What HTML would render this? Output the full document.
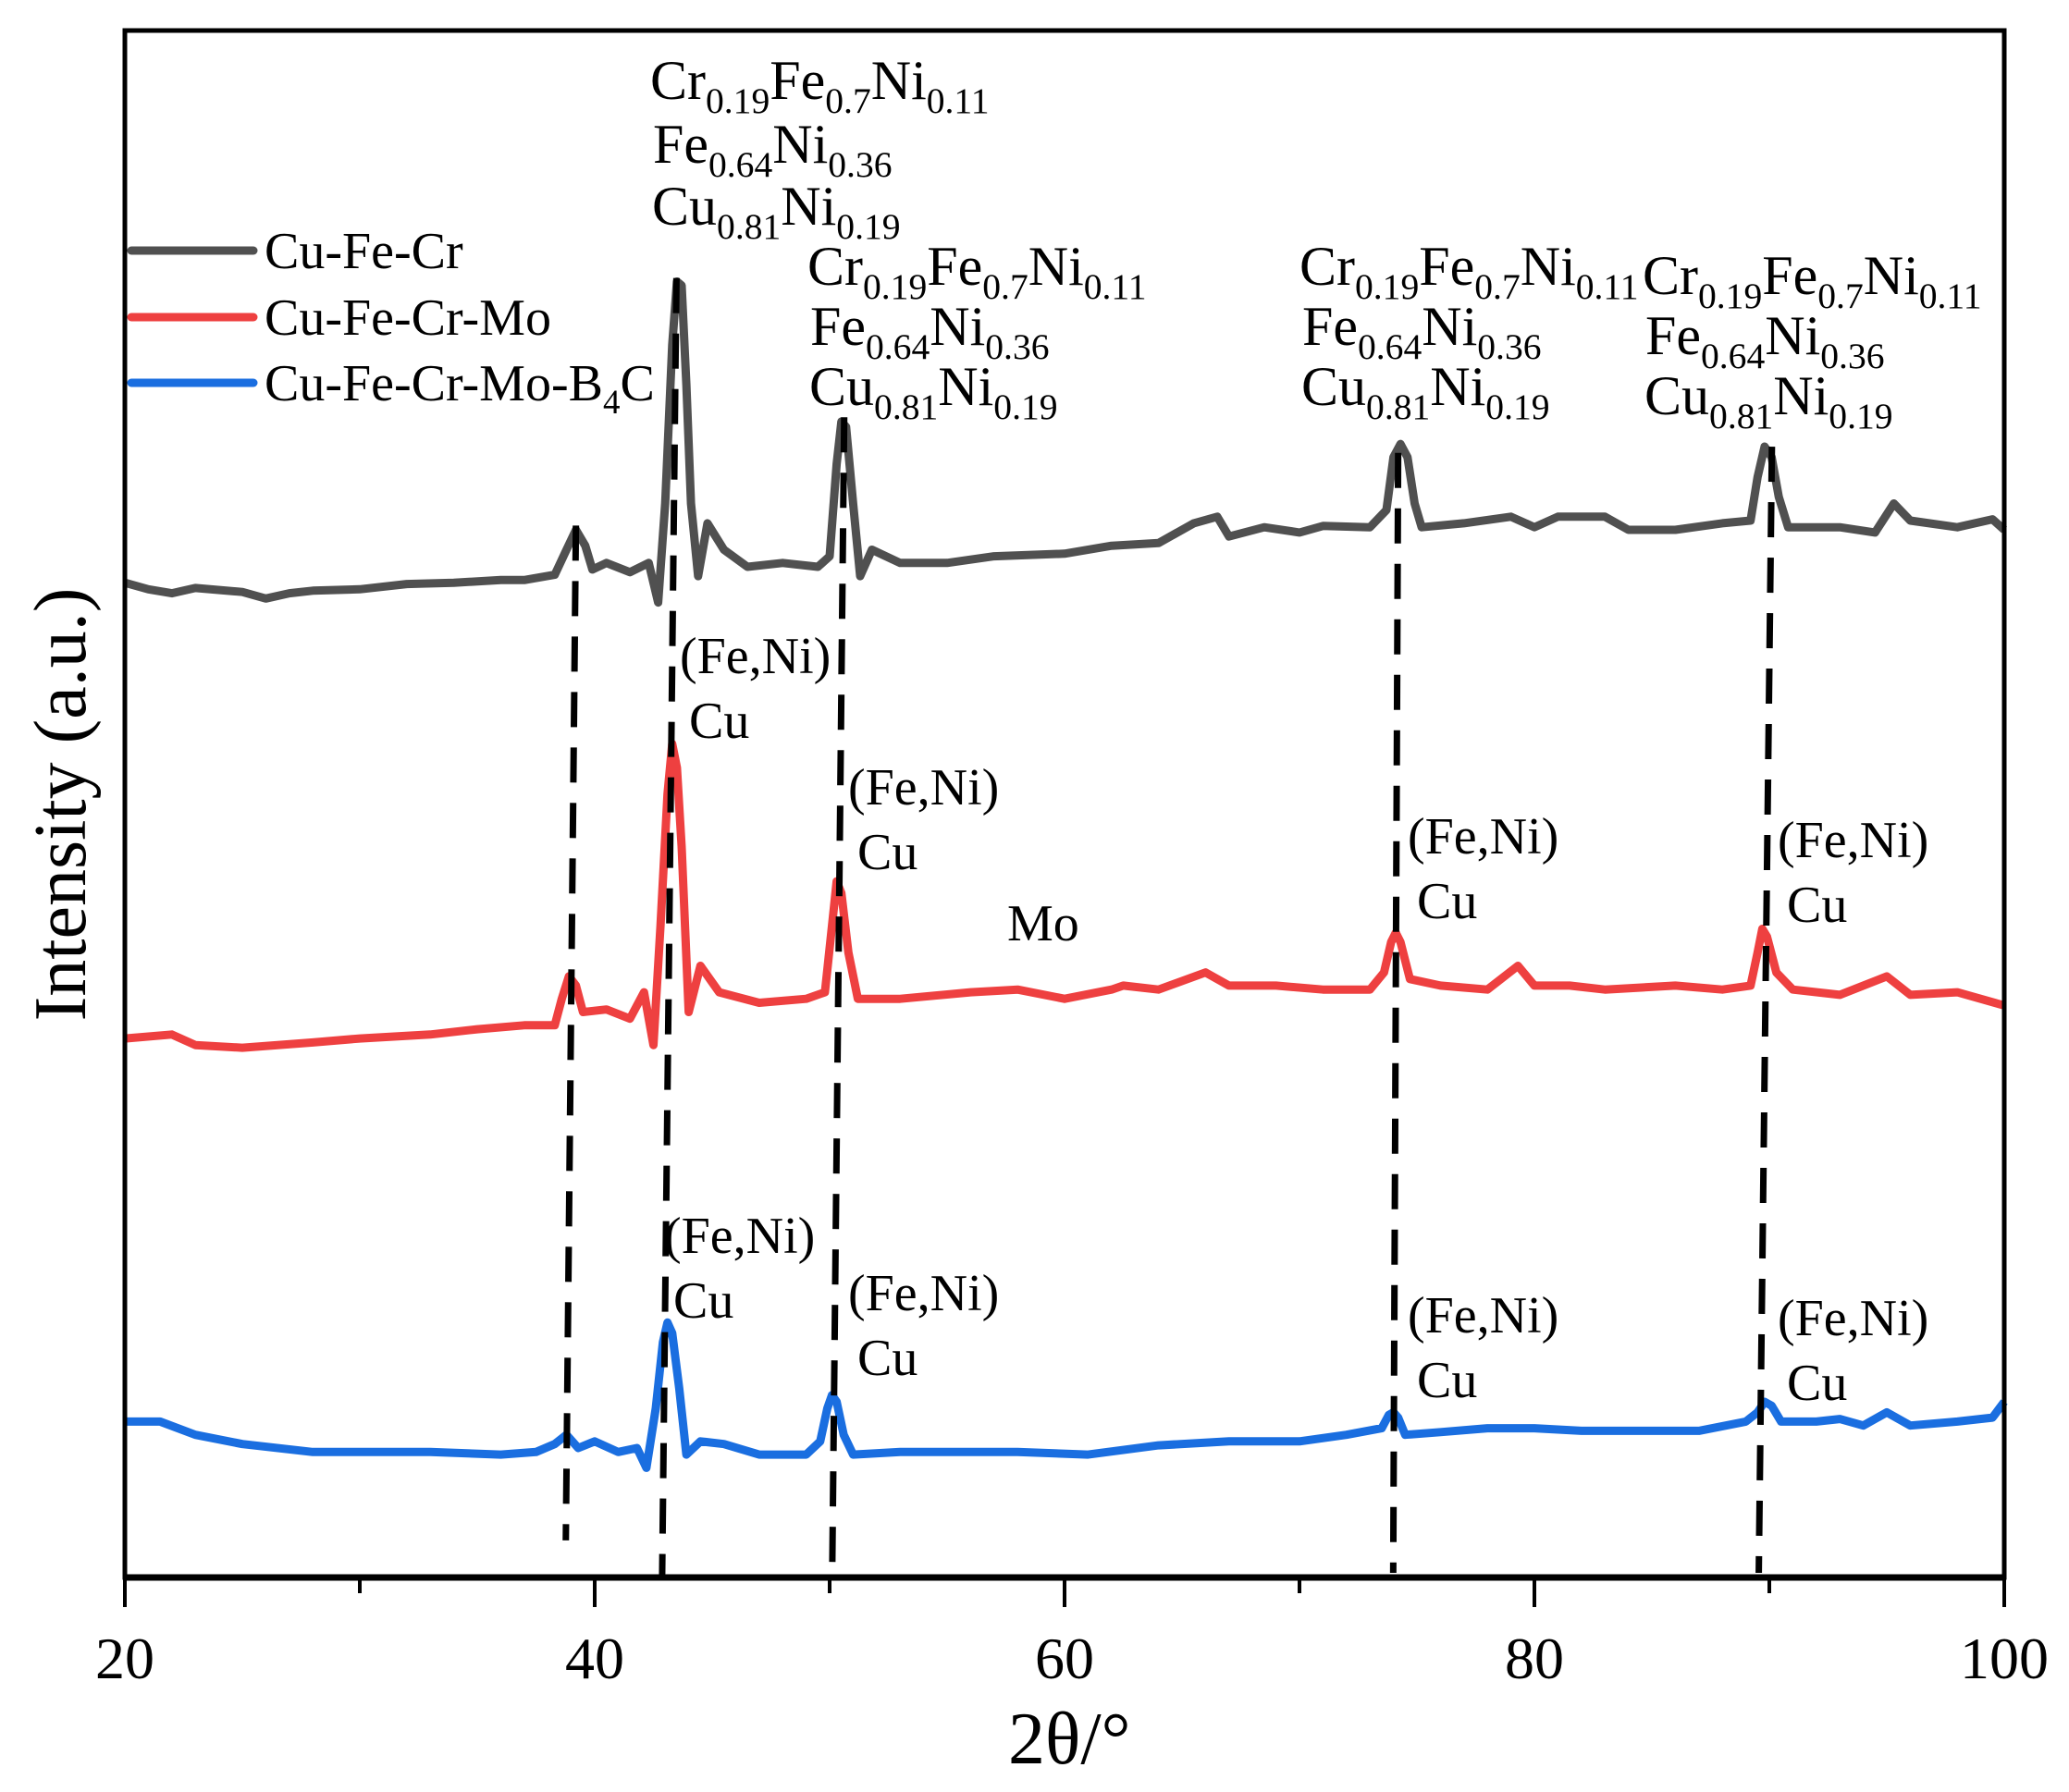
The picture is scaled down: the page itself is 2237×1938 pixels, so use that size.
<!DOCTYPE html>
<html><head><meta charset="utf-8"><style>
html,body{margin:0;padding:0;background:#fff;}
svg text{font-family:"Liberation Serif",serif;fill:#000;}
</style></head><body>
<svg id="chart" width="2237" height="1933" viewBox="0 0 2237 1933" xmlns="http://www.w3.org/2000/svg">
<g id="plot"></g>
<g id="ann"></g>
</svg>
<script>
// data (x in degrees 2θ, y in arbitrary intensity units 0..100)
const grayX=[20,21,22,23,25,26,27,28,30,32,34,36,37,38.3,38.8,39.2,39.6,39.9,40.5,41.5,42.3,42.7,43.0,43.3,43.5,43.7,43.9,44.1,44.4,44.8,45.5,46.5,48,49.5,50,50.3,50.5,50.7,51.0,51.3,51.8,53,55,57,60,62,64,65.5,66.5,67,68.5,70,71,73,73.7,74.0,74.3,74.6,74.9,75.2,77,79,80,81,83,84,86,88,89.2,89.5,89.8,90.1,90.4,90.8,93,94.5,95.3,96,98,99.5,100];
const grayY=[440,445,448,444,447,452,448,446,445,441,440,438,438,434,415,400,412,430,425,432,425,455,380,260,212,215,290,380,435,395,415,428,425,428,420,350,318,322,380,435,415,425,425,420,418,412,410,395,390,405,398,402,397,398,385,345,335,345,380,398,395,390,398,390,390,400,400,395,393,360,337,345,375,398,398,402,380,393,398,392,400].map(v=>(1193-v)/11.71);
const redX=[20,22,23,25,28,30,33,35,37,38.3,38.6,38.9,39.2,39.5,40.5,41.5,42.1,42.5,42.8,43.1,43.3,43.5,43.7,44.0,44.5,45.3,47,49,49.8,50.1,50.3,50.5,50.8,51.2,53,56,58,60,62,62.5,64,66,67,69,71,73,73.6,73.9,74.1,74.3,74.7,76,78,79.3,80,81.5,83,86,88,89.2,89.5,89.7,89.9,90.3,91,93,95,96,98,100];
const redY=[785,782,790,792,788,785,782,778,775,775,755,738,745,765,763,770,750,790,700,600,562,580,640,765,730,750,758,755,750,700,666,675,720,755,755,750,748,755,748,745,748,735,745,745,748,748,735,712,705,712,740,745,748,730,745,745,748,745,748,745,720,702,708,735,748,752,738,752,750,760].map(v=>(1193-v)/11.71);
const blueX=[20,21.5,23,25,28,30,33,36,37.5,38.3,38.8,39.3,40,41,41.8,42.2,42.6,42.9,43.1,43.3,43.6,43.9,44.5,45.5,47,49,49.6,49.9,50.1,50.3,50.6,51,53,55,58,61,64,67,70,72,73.5,73.8,74,74.2,74.5,76,78,80,82,84,87,89,89.5,89.8,90.1,90.5,92,93,94,95,96,98,99.5,100];
const blueY=[1075,1075,1085,1092,1098,1098,1098,1100,1098,1092,1085,1095,1090,1098,1095,1110,1065,1015,1000,1008,1050,1100,1090,1092,1100,1100,1090,1065,1055,1060,1085,1100,1098,1098,1098,1100,1093,1090,1090,1085,1080,1070,1068,1072,1085,1083,1080,1080,1082,1082,1082,1075,1068,1060,1063,1075,1075,1073,1078,1068,1078,1075,1072,1060].map(v=>(1193-v)/11.71);
const xTicks=[20,40,60,80,100];
const xMinor=[30,50,70,90];
const dashTop=[[39.2,68],[43.48,84],[50.62,75],[74.2,72.7],[90.11,73.1]];
const dashBot=[[38.77,2.4],[42.87,0],[50.11,0.3],[73.99,0.3],[89.55,0.3]];

const L=135,R=2167,T=33,B=1706;
const sx=v=>L+(v-20)/80*(R-L);
const sy=v=>B-v/100*(B-T);
const NS="http://www.w3.org/2000/svg";
const plot=document.getElementById('plot');
function mk(tag,attrs,parent){const e=document.createElementNS(NS,tag);for(const k in attrs)e.setAttribute(k,attrs[k]);(parent||plot).appendChild(e);return e;}

function series(xs,ys,color,name){
  const d=xs.map((x,i)=>(i?'L':'M')+sx(x).toFixed(1)+' '+sy(ys[i]).toFixed(1)).join(' ');
  const p=mk('path',{d:d,fill:'none',stroke:color,'stroke-width':9,'stroke-linejoin':'round'});
  
  
}
series(grayX,grayY,'#505050','series-cu-fe-cr');
series(redX,redY,'#ee4040','series-cu-fe-cr-mo');
series(blueX,blueY,'#1a6ee0','series-cu-fe-cr-mo-b4c');

dashTop.forEach((t,i)=>{
  const b=dashBot[i];
  const l=mk('line',{x1:sx(t[0]),y1:sy(t[1]),x2:sx(b[0]),y2:sy(b[1]),stroke:'#000','stroke-width':7,'stroke-dasharray':'38 22'});
  
  
});

// axes
const fr=mk('rect',{x:L,y:T,width:R-L,height:B-T,fill:'none',stroke:'#000','stroke-width':5});


const xa=mk('line',{x1:L,y1:B,x2:R,y2:B,stroke:'#000','stroke-width':7});


xTicks.forEach(v=>{
  const t=mk('line',{x1:sx(v),y1:B,x2:sx(v),y2:B+32,stroke:'#000','stroke-width':4});
  
  
  const tx=mk('text',{x:sx(v),y:1815,'font-size':64,'text-anchor':'middle'});
  tx.textContent=v;
  
  
});
xMinor.forEach(v=>{
  const t=mk('line',{x1:sx(v),y1:B,x2:sx(v),y2:B+17,stroke:'#000','stroke-width':4});
  
  
});
</script>
<script>
(function(){
const ann=document.getElementById('ann');
const NS="http://www.w3.org/2000/svg";
function txt(x,y,parts,size,name){
  const t=document.createElementNS(NS,'text');
  t.setAttribute('x',x);t.setAttribute('y',y);t.setAttribute('font-size',size);
  parts.forEach(p=>{
    const s=document.createElementNS(NS,'tspan');
    if(p[1]){s.setAttribute('font-size',size*0.66);s.setAttribute('dy',size*0.25);}
    else if(p[2]){s.setAttribute('dy',-size*0.25);}
    s.textContent=p[0];t.appendChild(s);
  });
  
  
  ann.appendChild(t);
}
const L1=[["Cr"],["0.19",1],["Fe",0,1],["0.7",1],["Ni",0,1],["0.11",1]];
const L2=[["Fe"],["0.64",1],["Ni",0,1],["0.36",1]];
const L3=[["Cu"],["0.81",1],["Ni",0,1],["0.19",1]];
[[703,107,176,243],[873,308,373,438],[1405,308,373,438],[1776,318,383,448]].forEach(g=>{
  txt(g[0],g[1],L1,60,'phase-label');
  txt(g[0]+3,g[2],L2,60,'phase-label');
  txt(g[0]+2,g[3],L3,60,'phase-label');
});
[[735,728],[917,870],[1522,923],[1922,927],[718,1355],[917,1417],[1522,1441],[1922,1444]].forEach(p=>{
  txt(p[0],p[1],[["(Fe,Ni)"]],56,'phase-label-fe-ni');
  txt(p[0]+10,p[1]+70,[["Cu"]],56,'phase-label-cu');
});
txt(1089,1017,[["Mo"]],56,'phase-label-mo');
// legend
const leg=[['#505050','Cu-Fe-Cr',271],['#ee4040','Cu-Fe-Cr-Mo',343],['#1a6ee0','Cu-Fe-Cr-Mo-B',414]];
leg.forEach((l,i)=>{
  const ln=document.createElementNS(NS,'line');
  ln.setAttribute('x1',142);ln.setAttribute('x2',274);ln.setAttribute('y1',l[2]);ln.setAttribute('y2',l[2]);
  ln.setAttribute('stroke',l[0]);ln.setAttribute('stroke-width',9);ln.setAttribute('stroke-linecap','round');
  
  
  ann.appendChild(ln);
  const parts=i==2?[["Cu-Fe-Cr-Mo-B"],["4",1],["C",0,1]]:[[l[1]]];
  txt(286,l[2]+19,parts,56,'legend-entry');
});
// axis titles
txt(1090,1907,[["2θ/°"]],80,'x-axis-title');
const yt=document.createElementNS(NS,'text');
yt.setAttribute('x',0);yt.setAttribute('y',0);yt.setAttribute('font-size',80);yt.setAttribute('text-anchor','middle');
yt.setAttribute('transform','translate(92,870) rotate(-90)');
yt.textContent='Intensity (a.u.)';


ann.appendChild(yt);
})();
</script>
</body></html>
